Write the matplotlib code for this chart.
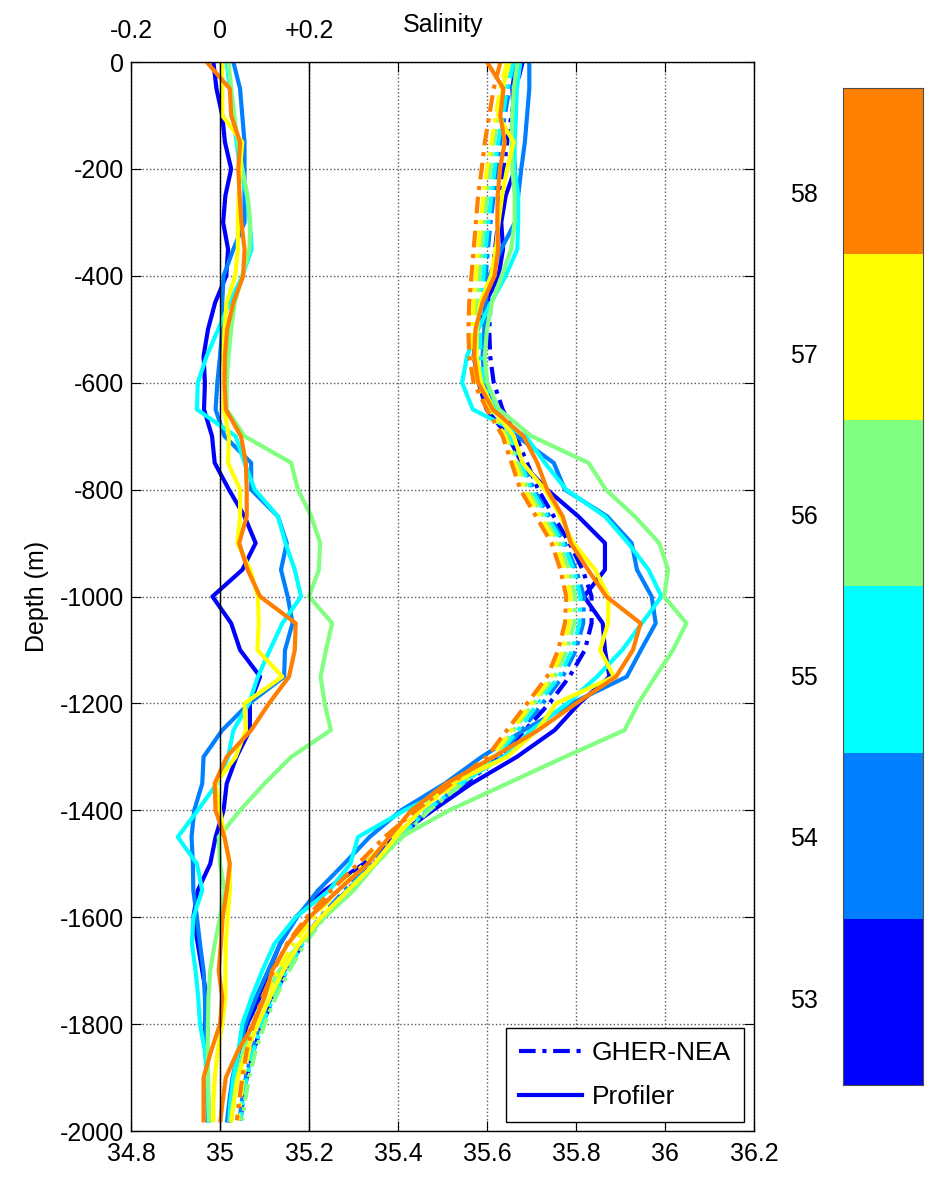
import numpy as np
import matplotlib.pyplot as plt
from matplotlib.colors import ListedColormap
from matplotlib.lines import Line2D

plt.rcParams['font.family'] = ['Liberation Sans', 'DejaVu Sans']

# depth grid (m, positive down) shared by every profile
depth = np.append(np.arange(0, 2000, 50), 1980)

# profile numbers and their colours (colorbar)
profiles = [53, 54, 55, 56, 57, 58]
colors = ['#0000ff', '#0080ff', '#00ffff', '#80ff80', '#ffff00', '#ff8000']

# GHER-NEA model salinity at each profile position
model = {
    53: [35.68, 35.665, 35.655, 35.645, 35.638, 35.63, 35.625, 35.618, 35.612, 35.608,
         35.605, 35.607, 35.615, 35.635, 35.665, 35.69, 35.715, 35.75, 35.785, 35.815,
         35.835, 35.835, 35.82, 35.785, 35.74, 35.685, 35.63, 35.55, 35.47, 35.405,
         35.345, 35.285, 35.23, 35.185, 35.15, 35.12, 35.095, 35.075, 35.06, 35.05, 35.046],
    54: [35.665, 35.65, 35.64, 35.63, 35.622, 35.615, 35.608, 35.602, 35.597, 35.592,
         35.589, 35.59, 35.60, 35.625, 35.657, 35.68, 35.705, 35.74, 35.775, 35.80,
         35.818, 35.816, 35.80, 35.77, 35.725, 35.678, 35.625, 35.545, 35.465, 35.40,
         35.34, 35.28, 35.225, 35.18, 35.145, 35.115, 35.09, 35.072, 35.058, 35.048, 35.044],
    55: [35.66, 35.645, 35.635, 35.625, 35.617, 35.61, 35.603, 35.597, 35.592, 35.587,
         35.584, 35.585, 35.594, 35.62, 35.652, 35.675, 35.70, 35.735, 35.77, 35.795,
         35.81, 35.808, 35.792, 35.762, 35.715, 35.67, 35.62, 35.545, 35.465, 35.405,
         35.345, 35.285, 35.23, 35.185, 35.15, 35.12, 35.095, 35.075, 35.06, 35.05, 35.046],
    56: [35.65, 35.635, 35.625, 35.615, 35.607, 35.60, 35.594, 35.588, 35.583, 35.578,
         35.575, 35.576, 35.585, 35.612, 35.645, 35.668, 35.692, 35.727, 35.762, 35.785,
         35.798, 35.796, 35.78, 35.752, 35.705, 35.66, 35.615, 35.545, 35.47, 35.41,
         35.35, 35.29, 35.235, 35.19, 35.155, 35.125, 35.10, 35.08, 35.065, 35.055, 35.05],
    57: [35.645, 35.63, 35.62, 35.61, 35.60, 35.592, 35.586, 35.58, 35.575, 35.57,
         35.567, 35.568, 35.577, 35.605, 35.64, 35.662, 35.685, 35.72, 35.755, 35.775,
         35.788, 35.785, 35.77, 35.745, 35.70, 35.655, 35.61, 35.53, 35.45, 35.385,
         35.325, 35.265, 35.21, 35.165, 35.13, 35.10, 35.08, 35.065, 35.052, 35.045, 35.04],
    58: [35.63, 35.615, 35.605, 35.595, 35.588, 35.58, 35.575, 35.57, 35.565, 35.56,
         35.558, 35.56, 35.57, 35.60, 35.635, 35.655, 35.675, 35.71, 35.745, 35.765,
         35.778, 35.775, 35.76, 35.735, 35.69, 35.645, 35.60, 35.52, 35.44, 35.37,
         35.31, 35.25, 35.195, 35.15, 35.12, 35.095, 35.075, 35.06, 35.05, 35.042, 35.038],
}

# profiler minus model (plotted around the 35.0 line, top axis -0.2..+0.2)
diff = {
    53: [-0.015, -0.008, 0.005, 0.011, 0.025, 0.012, 0.007, 0.018, 0.014, -0.011,
         -0.027, -0.037, -0.034, -0.036, -0.018, -0.012, 0.02, 0.055, 0.08, 0.05,
         -0.017, 0.025, 0.045, 0.09, 0.067, 0.067, 0.037, 0.015, 0.008, -0.01,
         -0.022, -0.05, -0.06, -0.05, -0.04, -0.03, -0.034, -0.032, -0.03, -0.027, -0.026],
    54: [0.03, 0.045, 0.05, 0.055, 0.055, 0.055, 0.055, 0.03, 0.008, 0.005,
         0.005, 0.0, -0.006, -0.01, 0.01, 0.07, 0.07, 0.13, 0.15, 0.137,
         0.152, 0.163, 0.146, 0.144, 0.065, 0.005, -0.037, -0.04, -0.058, -0.064,
         -0.061, -0.06, -0.052, -0.045, -0.037, -0.034, -0.033, -0.03, -0.03, -0.028, -0.028],
    55: [0.015, 0.022, 0.03, 0.037, 0.045, 0.06, 0.067, 0.071, 0.05, 0.022,
         -0.004, -0.03, -0.05, -0.052, 0.035, 0.055, 0.078, 0.13, 0.147, 0.168,
         0.182, 0.14, 0.112, 0.085, 0.065, 0.03, 0.018, -0.007, -0.05, -0.095,
         -0.052, -0.04, -0.06, -0.063, -0.055, -0.049, -0.045, -0.034, -0.03, -0.027, -0.025],
    56: [0.019, 0.025, 0.032, 0.04, 0.05, 0.062, 0.068, 0.066, 0.05, 0.033,
         0.025, 0.019, 0.015, 0.015, 0.055, 0.16, 0.175, 0.205, 0.225, 0.222,
         0.2, 0.252, 0.238, 0.226, 0.235, 0.249, 0.16, 0.1, 0.045, -0.003,
         0.0, 0.01, 0.0, -0.012, -0.022, -0.026, -0.027, -0.028, -0.027, -0.025, -0.025],
    57: [0.005, 0.005, 0.005, 0.05, 0.045, 0.042, 0.04, 0.04, 0.034, 0.015,
         0.01, 0.008, 0.01, 0.009, 0.02, 0.018, 0.045, 0.045, 0.039, 0.068,
         0.085, 0.087, 0.084, 0.14, 0.055, 0.058, 0.035, -0.01, 0.0, 0.01,
         0.022, 0.022, 0.017, 0.013, 0.012, 0.012, 0.005, -0.005, -0.012, -0.015, -0.015],
    58: [-0.03, 0.022, 0.025, 0.045, 0.041, 0.044, 0.048, 0.055, 0.052, 0.03,
         0.016, 0.011, 0.01, 0.013, 0.047, 0.058, 0.06, 0.06, 0.043, 0.062,
         0.09, 0.17, 0.168, 0.155, 0.11, 0.07, 0.015, -0.012, -0.01, 0.01,
         0.022, 0.015, 0.006, 0.002, -0.003, 0.005, 0.0, -0.02, -0.037, -0.037, -0.037],
}

xticks = [34.8, 35.0, 35.2, 35.4, 35.6, 35.8, 36.0, 36.2]
xticklabels = ['34.8', '35', '35.2', '35.4', '35.6', '35.8', '36', '36.2']
yticks = np.arange(-2000, 1, 200)
ref = 35.0
fs = 18

fig = plt.figure(figsize=(9.34, 11.79), dpi=100)
ax = fig.add_axes([0.1403, 0.0407, 0.667, 0.9067])

dashdot = (0, (4, 1.6, 1, 1.6))
lw = 3.0
for p, c in zip(profiles, colors):
    m = np.array(model[p])
    d = np.array(diff[p])
    ax.plot(m, -depth, color=c, lw=lw, linestyle=dashdot)
    ax.plot(m + d, -depth, color=c, lw=lw)
    ax.plot(ref + d, -depth, color=c, lw=lw)

ax.axvline(35.0, color='k', lw=1.0, zorder=5)
ax.axvline(35.2, color='k', lw=1.0, zorder=5)

ax.set_xlim(34.8, 36.2)
ax.set_ylim(-2000, 0)
ax.set_xticks(xticks)
ax.set_xticklabels(xticklabels)
ax.set_yticks(yticks)
ax.set_yticklabels([str(v) for v in yticks])
ax.grid(True, color='0.35', linestyle=':', linewidth=1.0)
ax.tick_params(direction='in', top=True, right=True, length=7, labelsize=fs)
ax.tick_params(axis='y', pad=5)
ax.tick_params(axis='x', pad=8)
ax.set_ylabel('Depth (m)', fontsize=fs, labelpad=8)
for s in ax.spines.values():
    s.set_linewidth(1.0)

top = ax.secondary_xaxis('top', functions=(lambda s: s - ref, lambda a: a + ref))
top.set_xticks([-0.2, 0.0, 0.2])
top.set_xticklabels(['-0.2', '0', '+0.2'])
top.tick_params(length=0, labelsize=fs, pad=14)
top.spines['top'].set_visible(False)
fig.text(443 / 934, 1 - 25 / 1179, 'Salinity', ha='center', va='center', fontsize=fs)

handles = [Line2D([], [], color='#0000ff', lw=lw, linestyle=dashdot),
           Line2D([], [], color='#0000ff', lw=lw)]
leg = ax.legend(handles, ['GHER-NEA', 'Profiler'], loc='lower right',
                bbox_to_anchor=(0.984, 0.008), borderaxespad=0, fontsize=fs + 1,
                fancybox=False, framealpha=1, edgecolor='k', handlelength=2.4,
                handletextpad=0.35, borderpad=0.5, labelspacing=0.75)
leg.get_frame().set_linewidth(1.0)

# colorbar of profile numbers
cax = fig.add_axes([0.9026, 0.0797, 0.0857, 0.8457])
cb_lo, cb_hi = 52.46, 58.65
edges = np.linspace(cb_lo, cb_hi, len(profiles) + 1)
cax.pcolormesh([0, 1], edges, np.arange(len(profiles)).reshape(-1, 1),
               cmap=ListedColormap(colors))
cax.set_ylim(cb_lo, cb_hi)
cax.set_xticks([])
cax.set_yticks(profiles)
cax.set_yticklabels([str(p) for p in profiles])
cax.tick_params(length=0, labelsize=fs, pad=18)
for s in cax.spines.values():
    s.set_color('0.3')

fig.savefig('out.png', dpi=100)
